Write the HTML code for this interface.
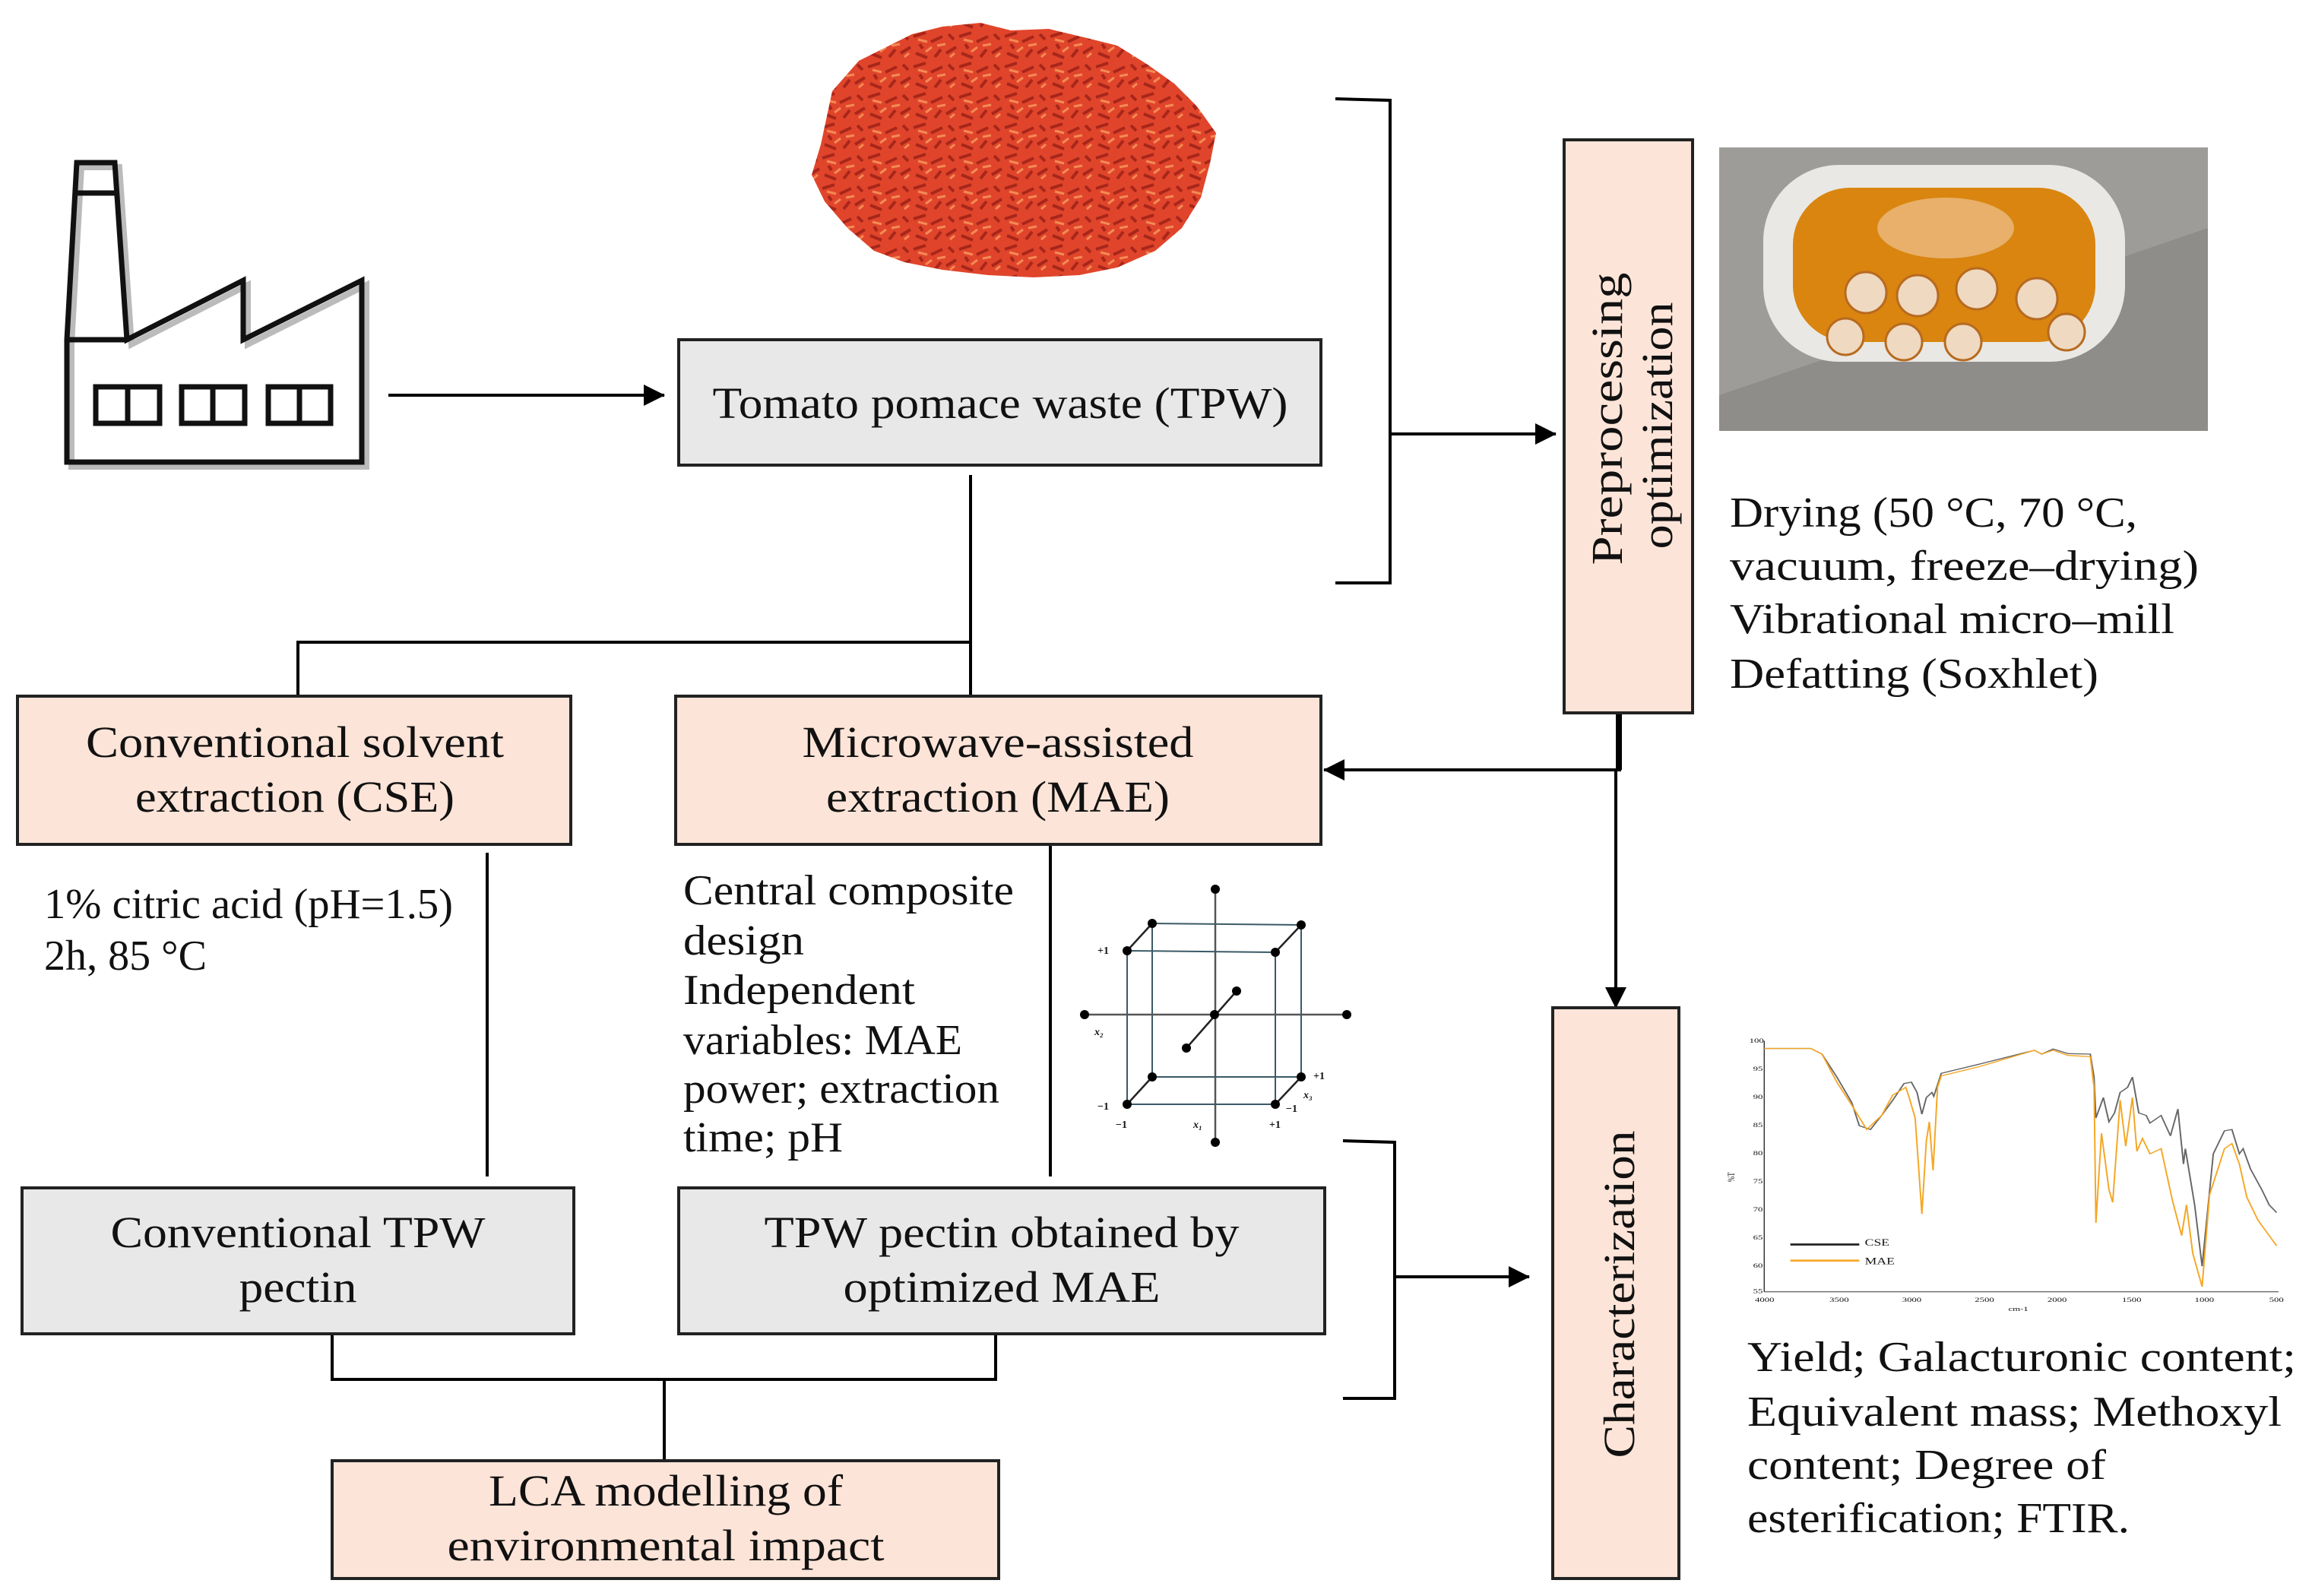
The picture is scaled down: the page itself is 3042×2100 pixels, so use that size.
<!DOCTYPE html>
<html><head><meta charset="utf-8"><style>
html,body{margin:0;padding:0;background:#fff;}
svg{display:block;}
text{font-family:"Liberation Serif",serif;fill:#111;}
</style></head><body>
<svg width="3042" height="2100" viewBox="0 0 3042 2100" xmlns="http://www.w3.org/2000/svg">
<defs>
<marker id="ar" markerWidth="28" markerHeight="28" refX="27" refY="14" orient="auto" markerUnits="userSpaceOnUse" viewBox="0 0 28 28"><path d="M0,0 L28,14 L0,28 Z" fill="#000"/></marker>
<pattern id="tp" width="60" height="40" patternUnits="userSpaceOnUse">
<rect width="60" height="40" fill="#e0452b"/>
<path d="M2,8 L18,3 M25,15 L40,8 M45,30 L58,22 M5,30 L20,36 M30,35 L38,25 M10,18 L14,24 M48,5 L55,12" stroke="#a8261a" stroke-width="4"/>
<path d="M8,12 L20,15 M33,20 L44,18 M18,28 L26,22 M50,35 L56,30" stroke="#f48a55" stroke-width="3"/>
</pattern>
</defs>
<rect width="3042" height="2100" fill="#fff"/>

<!-- tomato pomace -->
<path d="M1080,190 L1095,120 L1130,80 L1170,60 L1200,45 L1240,35 L1290,30 L1330,40 L1380,38 L1430,50 L1470,60 L1510,85 L1545,110 L1575,140 L1600,175 L1592,215 L1580,260 L1555,300 L1520,330 L1470,352 L1420,362 L1360,365 L1300,362 L1240,355 L1190,345 L1150,330 L1115,300 L1085,265 L1068,230 Z" fill="url(#tp)"/>

<!-- factory -->
<g fill="none" stroke="#bbb" stroke-width="8" transform="translate(6,6)">
<path d="M88,608 L88,447 L101,214 L151,214 L167,447 L320,369 L320,447 L476,369 L476,608 Z"/>
</g>
<g fill="none" stroke="#111" stroke-width="7">
<path d="M88,608 L88,447 L101,214 L151,214 L167,447 L320,369 L320,447 L476,369 L476,608 Z"/>
<line x1="97" y1="254" x2="155" y2="254"/>
<line x1="90" y1="447" x2="167" y2="447"/>
<rect x="126" y="509" width="84" height="48"/><line x1="168" y1="509" x2="168" y2="557"/>
<rect x="239" y="509" width="83" height="48"/><line x1="280" y1="509" x2="280" y2="557"/>
<rect x="353" y="509" width="82" height="48"/><line x1="394" y1="509" x2="394" y2="557"/>
</g>

<!-- photo -->
<g>
<rect x="2262" y="194" width="643" height="373" fill="#8e8d8a"/>
<polygon points="2262,194 2905,194 2905,300 2262,520" fill="#a8a7a3" opacity="0.6"/>
<rect x="2320" y="217" width="476" height="259" rx="100" fill="#e9e8e4"/>
<rect x="2359" y="247" width="398" height="203" rx="75" fill="#d9850f"/>
<ellipse cx="2560" cy="300" rx="90" ry="40" fill="#e8b06a"/>
<g fill="#efd9c0" stroke="#b76a20" stroke-width="3">
<circle cx="2455" cy="385" r="27"/><circle cx="2523" cy="389" r="27"/><circle cx="2601" cy="380" r="27"/><circle cx="2680" cy="393" r="27"/>
<circle cx="2428" cy="443" r="24"/><circle cx="2505" cy="450" r="24"/><circle cx="2583" cy="450" r="24"/><circle cx="2719" cy="437" r="24"/>
</g>
</g>

<!-- connectors -->
<g stroke="#000" stroke-width="4" fill="none">
<line x1="511" y1="520" x2="874" y2="520" marker-end="url(#ar)"/>
<polyline points="1757,130 1829,132 1829,767 1757,767"/>
<line x1="1829" y1="571" x2="2047" y2="571" marker-end="url(#ar)"/>
<line x1="1277" y1="625" x2="1277" y2="916"/>
<polyline points="392,916 392,845 1277,845"/>
<line x1="2130" y1="938" x2="2130" y2="1013" stroke-width="8"/>
<line x1="2133" y1="1013" x2="1742" y2="1013" marker-end="url(#ar)"/>
<line x1="2126" y1="1013" x2="2126" y2="1326" marker-end="url(#ar)"/>
<line x1="641" y1="1122" x2="641" y2="1548"/>
<line x1="1382" y1="1112" x2="1382" y2="1548"/>
<polyline points="1767,1501 1835,1503 1835,1840 1767,1840"/>
<line x1="1835" y1="1680" x2="2012" y2="1680" marker-end="url(#ar)"/>
<polyline points="437,1755 437,1815 1310,1815 1310,1755"/>
<line x1="874" y1="1815" x2="874" y2="1922"/>
</g>

<!-- boxes -->
<g stroke="#222" stroke-width="4">
<rect x="893" y="447" width="845" height="165" fill="#e8e8e8"/>
<rect x="2058" y="184" width="169" height="754" fill="#fde4d8"/>
<rect x="23" y="916" width="728" height="195" fill="#fde4d8"/>
<rect x="889" y="916" width="849" height="195" fill="#fde4d8"/>
<rect x="2043" y="1326" width="166" height="751" fill="#fde4d8"/>
<rect x="29" y="1563" width="726" height="192" fill="#e8e8e8"/>
<rect x="893" y="1563" width="850" height="192" fill="#e8e8e8"/>
<rect x="437" y="1922" width="877" height="155" fill="#fde4d8"/>
</g>

<!-- box text -->
<g font-size="58" text-anchor="middle">
<text x="1316" y="550" textLength="757" lengthAdjust="spacingAndGlyphs">Tomato pomace waste (TPW)</text>
<text x="388" y="996" textLength="550" lengthAdjust="spacingAndGlyphs">Conventional solvent</text>
<text x="388" y="1068" textLength="420" lengthAdjust="spacingAndGlyphs">extraction (CSE)</text>
<text x="1313" y="996" textLength="515" lengthAdjust="spacingAndGlyphs">Microwave-assisted</text>
<text x="1313" y="1068" textLength="452" lengthAdjust="spacingAndGlyphs">extraction (MAE)</text>
<text x="392" y="1641" textLength="493" lengthAdjust="spacingAndGlyphs">Conventional TPW</text>
<text x="392" y="1713" textLength="155" lengthAdjust="spacingAndGlyphs">pectin</text>
<text x="1318" y="1641" textLength="625" lengthAdjust="spacingAndGlyphs">TPW pectin obtained by</text>
<text x="1318" y="1713" textLength="417" lengthAdjust="spacingAndGlyphs">optimized MAE</text>
<text x="876" y="1981" textLength="466" lengthAdjust="spacingAndGlyphs">LCA modelling of</text>
<text x="876" y="2053" textLength="575" lengthAdjust="spacingAndGlyphs">environmental impact</text>
<text transform="translate(2134,551) rotate(-90)" textLength="385" lengthAdjust="spacingAndGlyphs">Preprocessing</text>
<text transform="translate(2200,560) rotate(-90)" textLength="325" lengthAdjust="spacingAndGlyphs">optimization</text>
<text transform="translate(2150,1703) rotate(-90)" textLength="431" lengthAdjust="spacingAndGlyphs">Characterization</text>
</g>

<!-- free text -->
<g font-size="56">
<text x="2276" y="693" textLength="536" lengthAdjust="spacingAndGlyphs">Drying (50 °C, 70 °C,</text>
<text x="2276" y="763" textLength="617" lengthAdjust="spacingAndGlyphs">vacuum, freeze–drying)</text>
<text x="2276" y="833" textLength="585" lengthAdjust="spacingAndGlyphs">Vibrational micro–mill</text>
<text x="2276" y="905" textLength="485" lengthAdjust="spacingAndGlyphs">Defatting (Soxhlet)</text>
<text x="58" y="1208" textLength="538" lengthAdjust="spacingAndGlyphs">1% citric acid (pH=1.5)</text>
<text x="58" y="1276" textLength="214" lengthAdjust="spacingAndGlyphs">2h, 85 °C</text>
<text x="899" y="1190" textLength="435" lengthAdjust="spacingAndGlyphs">Central composite</text>
<text x="899" y="1256" textLength="159" lengthAdjust="spacingAndGlyphs">design</text>
<text x="899" y="1321" textLength="305" lengthAdjust="spacingAndGlyphs">Independent</text>
<text x="899" y="1387" textLength="367" lengthAdjust="spacingAndGlyphs">variables: MAE</text>
<text x="899" y="1451" textLength="416" lengthAdjust="spacingAndGlyphs">power; extraction</text>
<text x="899" y="1515" textLength="210" lengthAdjust="spacingAndGlyphs">time; pH</text>
<text x="2299" y="1804" textLength="722" lengthAdjust="spacingAndGlyphs">Yield; Galacturonic content;</text>
<text x="2299" y="1876" textLength="703" lengthAdjust="spacingAndGlyphs">Equivalent mass; Methoxyl</text>
<text x="2299" y="1946" textLength="472" lengthAdjust="spacingAndGlyphs">content; Degree of</text>
<text x="2299" y="2016" textLength="503" lengthAdjust="spacingAndGlyphs">esterification; FTIR.</text>
</g>

<!-- cube -->
<g>
<g stroke="#3a5a66" stroke-width="2" fill="none">
<polygon points="1483,1251 1678,1253 1678,1453 1483,1453"/>
<polygon points="1516,1215 1712,1217 1712,1417 1516,1417"/>
</g>
<g stroke="#222" stroke-width="2.5">
<line x1="1483" y1="1251" x2="1516" y2="1215"/><line x1="1678" y1="1253" x2="1712" y2="1217"/>
<line x1="1483" y1="1453" x2="1516" y2="1417"/><line x1="1678" y1="1453" x2="1712" y2="1417"/>
<line x1="1599" y1="1170" x2="1599" y2="1503" stroke="#555"/>
<line x1="1427" y1="1335" x2="1772" y2="1335" stroke="#555"/>
<line x1="1561" y1="1379" x2="1627" y2="1304"/>
</g>
<g fill="#000">
<circle cx="1599" cy="1170" r="6"/><circle cx="1599" cy="1503" r="6"/><circle cx="1427" cy="1335" r="6"/><circle cx="1772" cy="1335" r="6"/><circle cx="1598" cy="1335" r="6"/><circle cx="1627" cy="1304" r="6"/><circle cx="1561" cy="1379" r="6"/>
<circle cx="1483" cy="1251" r="6"/><circle cx="1678" cy="1253" r="6"/><circle cx="1483" cy="1453" r="6"/><circle cx="1678" cy="1453" r="6"/>
<circle cx="1516" cy="1215" r="6"/><circle cx="1712" cy="1217" r="6"/><circle cx="1516" cy="1417" r="6"/><circle cx="1712" cy="1417" r="6"/>
</g>
<g font-size="14" font-weight="bold">
<text x="1444" y="1255">+1</text><text x="1444" y="1460">−1</text><text x="1468" y="1484">−1</text><text x="1670" y="1484">+1</text>
<text x="1728" y="1420">+1</text><text x="1692" y="1463">−1</text>
<text x="1440" y="1362" font-style="italic">x₂</text><text x="1570" y="1484" font-style="italic">x₁</text><text x="1715" y="1445" font-style="italic">x₃</text>
</g>
</g>

<!-- FTIR chart -->
<svg x="2260" y="1350" width="760" height="380" viewBox="0 0 1550 1130" preserveAspectRatio="none">
<g stroke="#333" stroke-width="3" fill="none">
<line x1="125" y1="58" x2="125" y2="1040"/><line x1="125" y1="1040" x2="1505" y2="1040"/>
</g>
<g font-family="Liberation Sans, sans-serif" font-size="26" fill="#444">
<text x="85" y="65">100</text><text x="95" y="175">95</text><text x="95" y="285">90</text><text x="95" y="395">85</text><text x="95" y="505">80</text><text x="95" y="615">75</text><text x="95" y="725">70</text><text x="95" y="835">65</text><text x="95" y="945">60</text><text x="95" y="1045">55</text>
<text x="100" y="1080">4000</text><text x="300" y="1080">3500</text><text x="495" y="1080">3000</text><text x="690" y="1080">2500</text><text x="885" y="1080">2000</text><text x="1085" y="1080">1500</text><text x="1280" y="1080">1000</text><text x="1480" y="1080">500</text>
<text x="780" y="1115">cm-1</text><text transform="translate(45,610) rotate(-90)">%T</text>
<text x="395" y="860" font-size="36">CSE</text><text x="395" y="932" font-size="36">MAE</text>
</g>
<line x1="195" y1="855" x2="380" y2="855" stroke="#222" stroke-width="8"/>
<line x1="195" y1="918" x2="380" y2="918" stroke="#f5a623" stroke-width="8"/>
<polyline fill="none" stroke="#666" stroke-width="4" points="125,88 250,88 280,110 320,200 360,300 380,390 410,405 440,350 470,290 500,225 520,220 535,260 548,345 560,280 575,260 580,275 600,185 700,150 850,95 870,110 900,90 940,108 1000,110 1010,200 1015,360 1035,280 1050,375 1065,340 1080,260 1100,240 1113,200 1130,340 1150,350 1160,380 1190,350 1215,430 1235,325 1250,540 1255,480 1280,700 1300,940 1330,500 1360,410 1380,405 1400,500 1410,480 1430,560 1460,640 1480,700 1500,730"/>
<polyline fill="none" stroke="#f5a623" stroke-width="4" points="125,88 250,88 280,110 320,220 360,310 400,405 440,350 470,270 505,240 515,285 530,360 548,735 560,450 568,375 578,565 590,240 600,195 700,160 850,95 870,110 900,95 940,115 1000,120 1010,240 1015,770 1030,420 1050,640 1060,690 1080,290 1095,470 1113,280 1125,490 1140,440 1160,500 1190,480 1220,680 1245,820 1258,700 1275,890 1300,1020 1320,660 1360,480 1380,460 1400,540 1420,670 1450,760 1480,820 1500,860"/>
</svg>
</svg>
</body></html>
